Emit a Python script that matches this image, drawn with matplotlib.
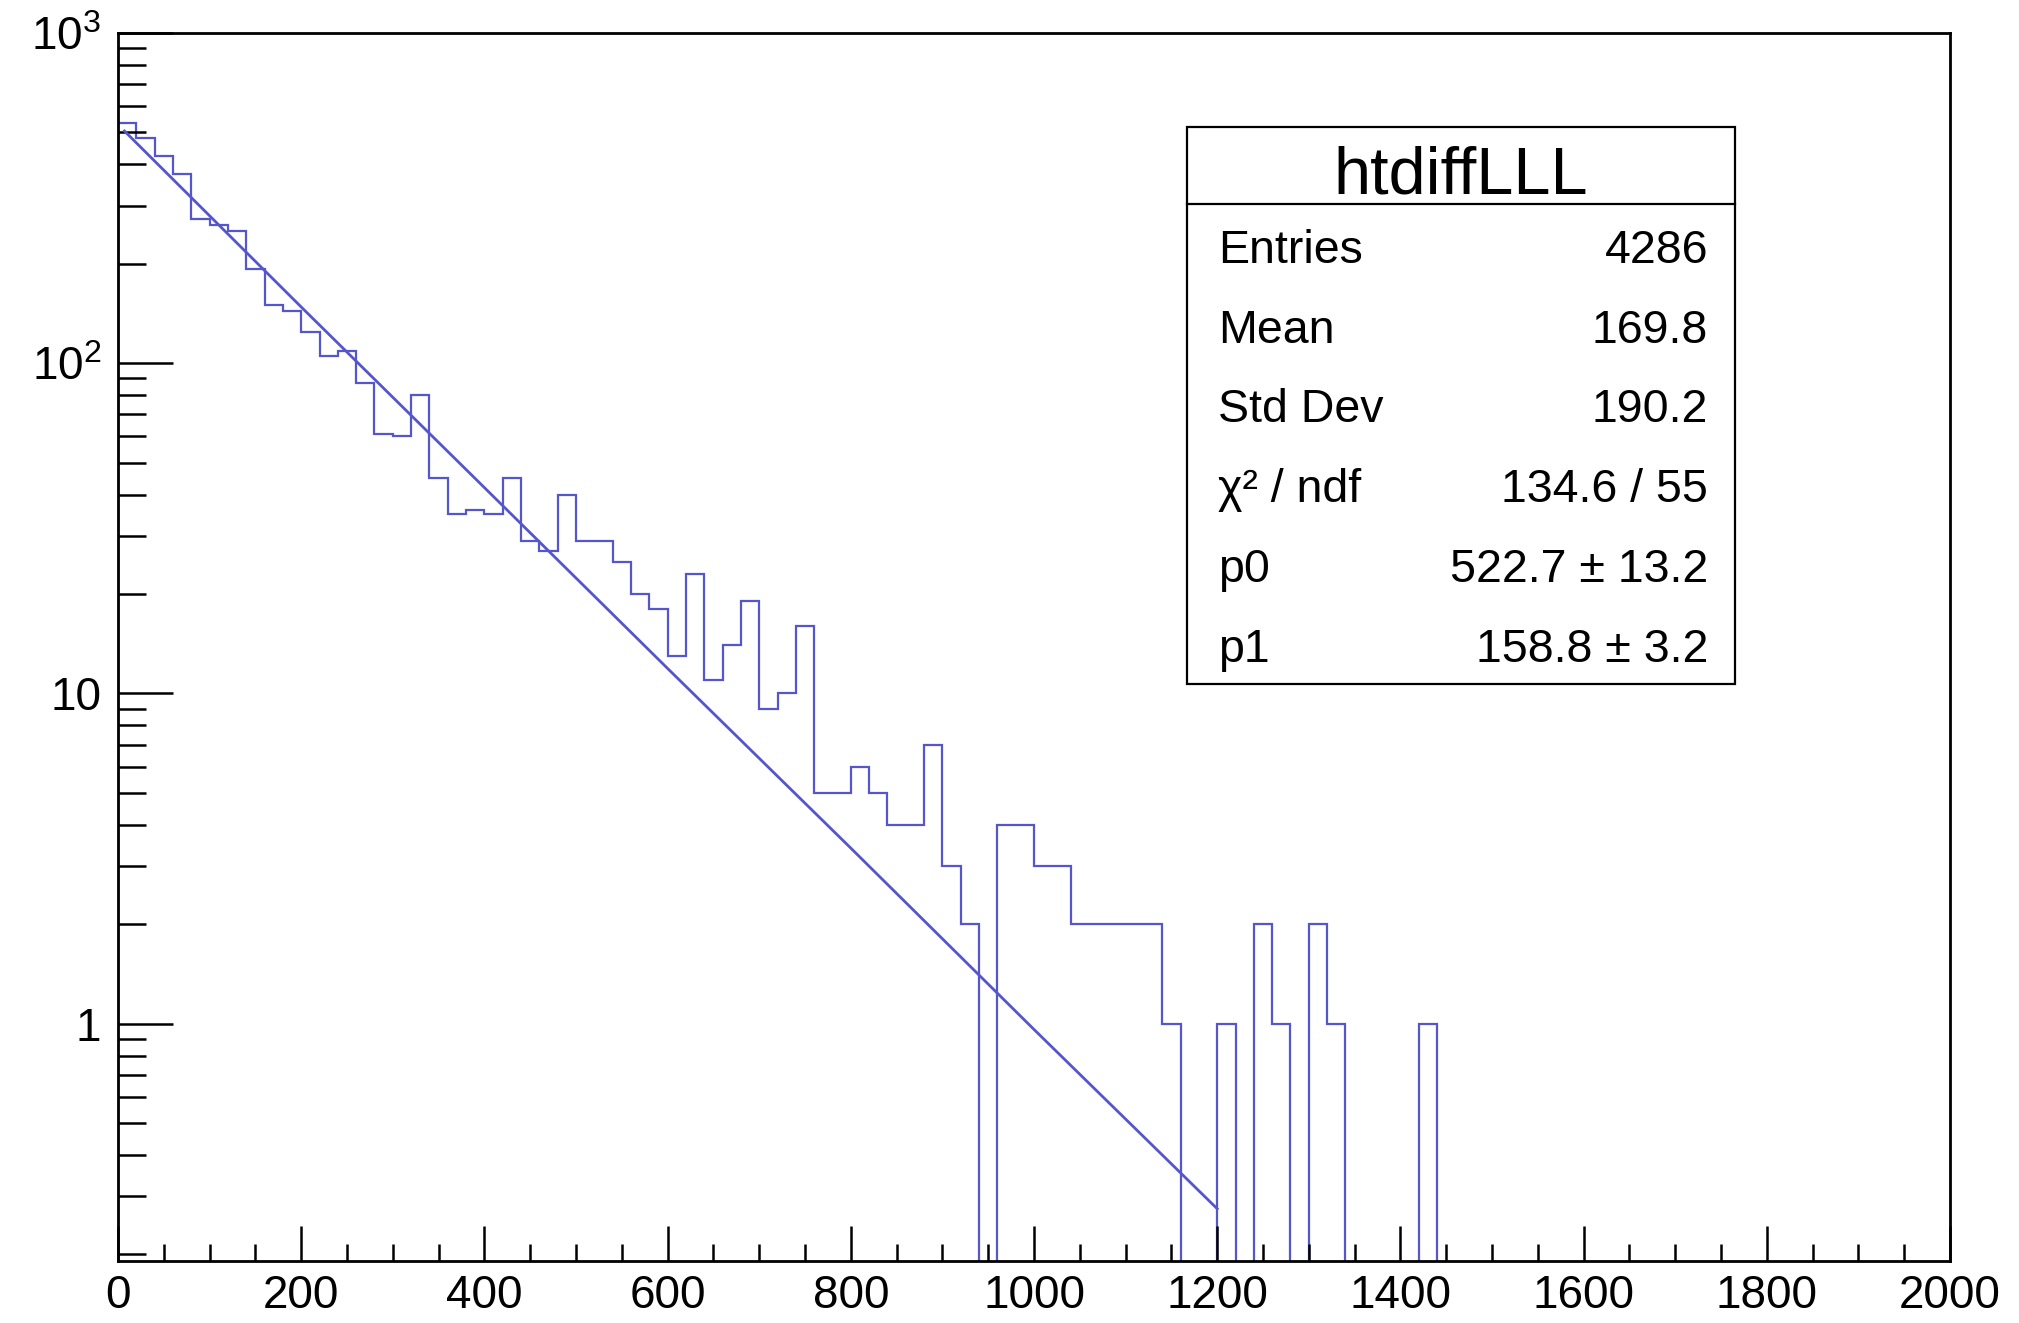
import numpy as np
import matplotlib
matplotlib.use('Agg')
import matplotlib.pyplot as plt
from matplotlib.ticker import MultipleLocator, FixedLocator, FixedFormatter, LogLocator, NullFormatter
from matplotlib.patches import Rectangle
from matplotlib.lines import Line2D

# Helvetica-like look of a ROOT canvas
plt.rcParams['font.family'] = ['Liberation Sans', 'DejaVu Sans']
plt.rcParams['mathtext.fontset'] = 'custom'
plt.rcParams['mathtext.rm'] = 'Liberation Sans'
plt.rcParams['mathtext.it'] = 'Liberation Sans:italic'

# histogram: 100 bins of width 20 from 0 to 2000
bin_edges = np.arange(0, 2001, 20)
counts = [533, 481, 424, 374, 273, 263, 252, 193, 150, 144,
          124, 105, 109, 87, 61, 60, 80, 45, 35, 36,
          35, 45, 29, 27, 40, 29, 29, 25, 20, 18,
          13, 23, 11, 14, 19, 9, 10, 16, 5, 5,
          6, 5, 4, 4, 7, 3, 2, 0, 4, 4,
          3, 3, 2, 2, 2, 2, 2, 1, 0, 0,
          1, 0, 2, 1, 0, 2, 1, 0, 0, 0,
          0, 1] + [0] * 28

# fitted exponential
fit_x = [7, 200, 400, 600, 800, 1000, 1200]
fit_y = [505, 148, 42, 11.9, 3.4, 0.96, 0.275]

y_ticks = [1, 10, 100, 1000]
y_tick_labels = ['1', '10', '$10^{2}$', '$10^{3}$']

stats_title = 'htdiffLLL'
stats_names = ['Entries', 'Mean', 'Std Dev', 'χ² / ndf', 'p0', 'p1']
stats_values = ['4286', '169.8', '190.2', '134.6 / 55', '522.7 ± 13.2', '158.8 ± 3.2']

W, H = 2019, 1323
fig = plt.figure(figsize=(W / 100, H / 100), dpi=100)
fig.patch.set_facecolor('white')

def fx(px):
    return px / W

def fy(py):
    return 1 - py / H

# frame in pixels: left 118, right 1950, top 33, bottom 1261
ax = fig.add_axes([fx(118), fy(1261), fx(1950) - fx(118), fy(33) - fy(1261)])

line_color = '#5555cc'
floor = 1e-3
ax.stairs(np.maximum(np.array(counts, dtype=float), floor), bin_edges,
          baseline=floor, color=line_color, linewidth=1.6)
ax.plot(fit_x, fit_y, color=line_color, linewidth=2.0)

ax.set_yscale('log')
ax.set_xlim(0, 2000)
ax.set_ylim(0.191, 1000)

# ticks like ROOT: inside, only bottom and left
ax.xaxis.set_major_locator(MultipleLocator(200))
ax.xaxis.set_minor_locator(MultipleLocator(50))
ax.yaxis.set_major_locator(FixedLocator(y_ticks))
ax.yaxis.set_major_formatter(FixedFormatter(y_tick_labels))
ax.yaxis.set_minor_locator(LogLocator(base=10, subs=np.arange(2, 10)))
ax.yaxis.set_minor_formatter(NullFormatter())

ax.tick_params(axis='both', which='both', direction='in', top=False, right=False,
               width=1.8, labelsize=33)
ax.tick_params(axis='x', which='major', length=25, pad=9)
ax.tick_params(axis='x', which='minor', length=12.5)
ax.tick_params(axis='y', which='major', length=39.5, pad=12)
ax.tick_params(axis='y', which='minor', length=20)

for s in ax.spines.values():
    s.set_linewidth(2.0)
    s.set_color('black')

# stats box
bx0, bx1, by0, by1, bsep = 1187, 1735, 127, 684, 204
fig.add_artist(Rectangle((fx(bx0), fy(by1)), fx(bx1) - fx(bx0), fy(by0) - fy(by1),
                         transform=fig.transFigure, facecolor='white',
                         edgecolor='black', linewidth=1.6, zorder=5))
fig.add_artist(Line2D([fx(bx0), fx(bx1)], [fy(bsep), fy(bsep)],
                      transform=fig.transFigure, color='black', linewidth=1.6, zorder=6))
fig.text(fx((bx0 + bx1) / 2), fy(193), stats_title, ha='center', va='baseline',
         fontsize=48, zorder=7)

for i, (name, val) in enumerate(zip(stats_names, stats_values)):
    base = 263 + 79.7 * i
    fig.text(fx(1218), fy(base), name, ha='left', va='baseline', fontsize=33.5, zorder=7)
    fig.text(fx(1708), fy(base), val, ha='right', va='baseline', fontsize=33.5, zorder=7)

fig.savefig('out.png', dpi=100)
plt.close(fig)
